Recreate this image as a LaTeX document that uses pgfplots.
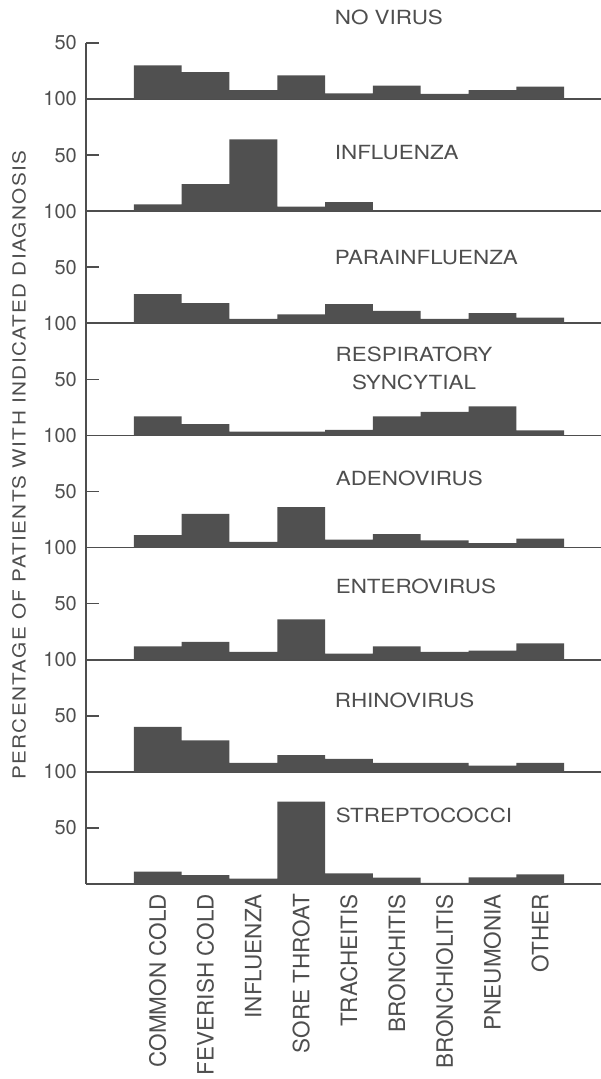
\documentclass[border=0pt]{standalone}
\usepackage{pgfplots}
\pgfplotsset{compat=1.18}
\usepackage{fontspec}
\setmainfont{TeX Gyre Heros}
\newfontfamily\wide{TeX Gyre Heros}[FakeStretch=1.15]
\newfontfamily\widespaced{TeX Gyre Heros}[FakeStretch=1.15, LetterSpace=8]
\definecolor{ink}{HTML}{4E4E4E}
\definecolor{barc}{HTML}{505050}

% one strip of the stacked histogram: 0-100 per cent, nine diagnoses
\pgfplotsset{
  panel/.style={
    scale only axis, anchor=south west, clip=false,
    width=515pt, height=112.14pt,
    xmin=-1, xmax=9.77, ymin=0, ymax=100,
    axis lines*=left,
    axis line style={ink, line width=1.6pt},
    xtick=\empty,
    ytick={50,100}, yticklabels={50,100},
    tick align=inside, major tick length=13pt,
    major tick style={ink, line width=1.6pt},
    yticklabel shift=9pt,
    yticklabel style={inner sep=0pt, font=\fontsize{20}{24}\selectfont, text=ink},
  },
  bars/.style={ybar interval, fill=barc, draw=none},
}
\tikzset{ttl/.style={anchor=west, inner sep=0pt, text=ink, font=\wide\fontsize{19.5}{28}\selectfont}}

\begin{document}
\begin{tikzpicture}
\path[use as bounding box] (0pt,0pt) rectangle (601pt,-1079pt);

% NO VIRUS
\begin{axis}[panel, at={(86pt,-99pt)}, height=56.07pt, ymax=50, ytick={50}, yticklabels={50}]
\addplot[bars] coordinates {(0,30) (1,24) (2,8) (3,21) (4,5) (5,12) (6,4.5) (7,8) (8,11) (9,0)};
\node[ttl] at (axis cs:4.2,73) {NO VIRUS};
\end{axis}

% INFLUENZA
\begin{axis}[panel, at={(86pt,-211.14pt)}]
\addplot[bars] coordinates {(0,6) (1,24) (2,64) (3,4) (4,8) (5,0) (6,0) (7,0) (8,0) (9,0)};
\node[ttl] at (axis cs:4.2,52.6) {INFLUENZA};
\end{axis}

% PARAINFLUENZA
\begin{axis}[panel, at={(86pt,-323.28pt)}]
\addplot[bars] coordinates {(0,26) (1,18) (2,4) (3,8) (4,17) (5,11) (6,4) (7,9) (8,5) (9,0)};
\node[ttl] at (axis cs:4.2,58.9) {PARAINFLUENZA};
\end{axis}

% RESPIRATORY SYNCYTIAL
\begin{axis}[panel, at={(86pt,-435.42pt)}]
\addplot[bars] coordinates {(0,17) (1,10) (2,3.5) (3,3.5) (4,5) (5,17) (6,21) (7,26) (8,4.5) (9,0)};
\node[ttl, anchor=center, align=center] at (axis cs:5.86,59.7) {RESPIRATORY\\SYNCYTIAL};
\end{axis}

% ADENOVIRUS
\begin{axis}[panel, at={(86pt,-547.56pt)}]
\addplot[bars] coordinates {(0,11) (1,30) (2,5) (3,36) (4,7) (5,12) (6,6.5) (7,4) (8,8) (9,0)};
\node[ttl] at (axis cs:4.22,61.5) {ADENOVIRUS};
\end{axis}

% ENTEROVIRUS
\begin{axis}[panel, at={(86pt,-659.70pt)}]
\addplot[bars] coordinates {(0,12) (1,16) (2,7) (3,36) (4,5.5) (5,12) (6,7) (7,8) (8,14.5) (9,0)};
\node[ttl] at (axis cs:4.22,65) {ENTEROVIRUS};
\end{axis}

% RHINOVIRUS
\begin{axis}[panel, at={(86pt,-771.84pt)}]
\addplot[bars] coordinates {(0,40) (1,28) (2,8) (3,15) (4,11.5) (5,8) (6,8) (7,5.5) (8,8) (9,0)};
\node[ttl] at (axis cs:4.2,63.3) {RHINOVIRUS};
\end{axis}

% STREPTOCOCCI, with the diagnosis names below
\begin{axis}[panel, at={(86pt,-883.98pt)},
  xtick={0.5,1.5,...,8.5},
  xticklabels={COMMON COLD, FEVERISH COLD, INFLUENZA, SORE THROAT, TRACHEITIS, BRONCHITIS, BRONCHIOLITIS, PNEUMONIA, OTHER},
  xticklabel shift=10pt,
  x tick style={draw=none},
  xticklabel style={rotate=90, anchor=east, inner sep=0pt, text=ink, font=\fontsize{22.5}{28}\selectfont}]
\addplot[bars] coordinates {(0,11) (1,8) (2,4.8) (3,73.5) (4,9.5) (5,5.6) (6,1) (7,6) (8,8.6) (9,0)};
\node[ttl] at (axis cs:4.22,61.5) {STREPTOCOCCI};
\end{axis}

% shared vertical caption
\node[rotate=90, inner sep=0pt, text=ink, font=\widespaced\fontsize{18}{21}\selectfont] at (19pt,-465pt)
  {PERCENTAGE OF PATIENTS WITH INDICATED DIAGNOSIS};

\end{tikzpicture}
\end{document}
